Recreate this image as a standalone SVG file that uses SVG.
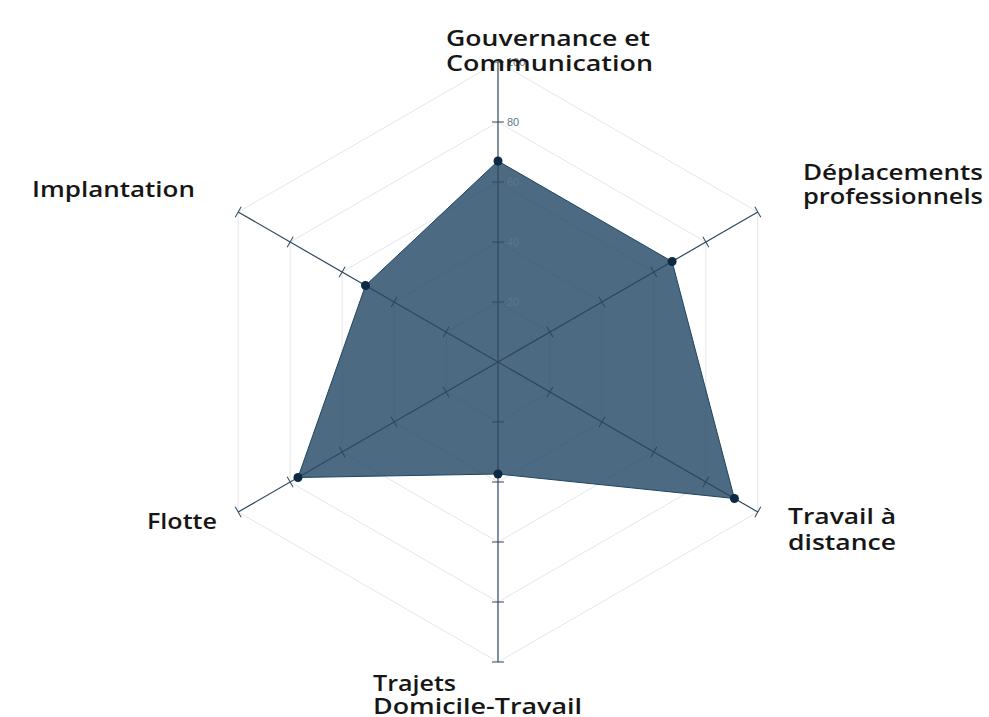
<svg xmlns="http://www.w3.org/2000/svg" xmlns:xlink="http://www.w3.org/1999/xlink" width="989" height="717" viewBox="0 0 989 717">
  <style>
    .grid { fill: none; stroke: #e4e6e8; stroke-width: 1; }
    .axis { stroke: #2f475d; stroke-width: 1.2; fill: none; }
    .tick { stroke: #2f475d; stroke-width: 1; }
    .ticklbl { font-family: "Liberation Sans", Arial, sans-serif; font-size: 11px; fill: #5f778a; }
    .lbl { font-family: "Open Sans", "Noto Sans", sans-serif; font-size: 22px; font-weight: 600; fill: #161616; }
    .area { fill: #1f4562; fill-opacity: 0.8; stroke: #1f4562; stroke-width: 1; }
    .pt { fill: #0d2a44; }
  </style>
  <defs>
    <g id="axisProto">
      <line class="axis" x1="498" y1="362" x2="498" y2="62"/>
      <line class="tick" x1="492" y1="302" x2="504" y2="302"/>
      <line class="tick" x1="492" y1="242" x2="504" y2="242"/>
      <line class="tick" x1="492" y1="182" x2="504" y2="182"/>
      <line class="tick" x1="492" y1="122" x2="504" y2="122"/>
      <line class="tick" x1="492" y1="62" x2="504" y2="62"/>
    </g>
  </defs>
  <rect width="989" height="717" fill="#ffffff"/>

  <g id="grid">
    <polygon class="grid" points="498,302 549.96,332 549.96,392 498,422 446.04,392 446.04,332"/>
    <polygon class="grid" points="498,242 601.92,302 601.92,422 498,482 394.08,422 394.08,302"/>
    <polygon class="grid" points="498,182 653.88,272 653.88,452 498,542 342.12,452 342.12,272"/>
    <polygon class="grid" points="498,122 705.85,242 705.85,482 498,602 290.15,482 290.15,242"/>
    <polygon class="grid" points="498,62 757.81,212 757.81,512 498,662 238.19,512 238.19,212"/>
  </g>

  <g id="data-area">
    <polygon class="area" points="498,161 672.1,261.5 734.4,498.5 498,474 298,477.5 365.5,285.5"/>
  </g>

  <g id="connectors">
    <use xlink:href="#axisProto"/>
    <use xlink:href="#axisProto" transform="rotate(60 498 362)"/>
    <use xlink:href="#axisProto" transform="rotate(120 498 362)"/>
    <use xlink:href="#axisProto" transform="rotate(180 498 362)"/>
    <use xlink:href="#axisProto" transform="rotate(240 498 362)"/>
    <use xlink:href="#axisProto" transform="rotate(300 498 362)"/>
  </g>

  <g id="tick-labels">
    <text class="ticklbl" x="507" y="306">20</text>
    <text class="ticklbl" x="507" y="246">40</text>
    <text class="ticklbl" x="507" y="186">60</text>
    <text class="ticklbl" x="507" y="126">80</text>
    <text class="ticklbl" x="507" y="66">100</text>
  </g>

  <g id="points">
    <circle class="pt" cx="498" cy="161" r="4.5"/>
    <circle class="pt" cx="672.1" cy="261.5" r="4.5"/>
    <circle class="pt" cx="734.4" cy="498.5" r="4.5"/>
    <circle class="pt" cx="498" cy="474" r="4.5"/>
    <circle class="pt" cx="298" cy="477.5" r="4.5"/>
    <circle class="pt" cx="365.5" cy="285.5" r="4.5"/>
  </g>

  <g id="node-gouvernance">
    <text class="lbl" x="446" y="46" textLength="204" lengthAdjust="spacingAndGlyphs">Gouvernance et</text>
    <text class="lbl" x="446" y="71" textLength="207" lengthAdjust="spacingAndGlyphs">Communication</text>
  </g>
  <g id="node-deplacements">
    <text class="lbl" x="803" y="180" textLength="180" lengthAdjust="spacingAndGlyphs">Déplacements</text>
    <text class="lbl" x="803" y="204" textLength="180" lengthAdjust="spacingAndGlyphs">professionnels</text>
  </g>
  <g id="node-travail">
    <text class="lbl" x="788" y="524" textLength="108" lengthAdjust="spacingAndGlyphs">Travail à</text>
    <text class="lbl" x="788" y="550" textLength="108" lengthAdjust="spacingAndGlyphs">distance</text>
  </g>
  <g id="node-trajets">
    <text class="lbl" x="373" y="691" textLength="83" lengthAdjust="spacingAndGlyphs">Trajets</text>
    <text class="lbl" x="373" y="714" textLength="209" lengthAdjust="spacingAndGlyphs">Domicile-Travail</text>
  </g>
  <g id="node-flotte">
    <text class="lbl" x="147" y="529" textLength="70" lengthAdjust="spacingAndGlyphs">Flotte</text>
  </g>
  <g id="node-implantation">
    <text class="lbl" x="32" y="197" textLength="163" lengthAdjust="spacingAndGlyphs">Implantation</text>
  </g>
</svg>
